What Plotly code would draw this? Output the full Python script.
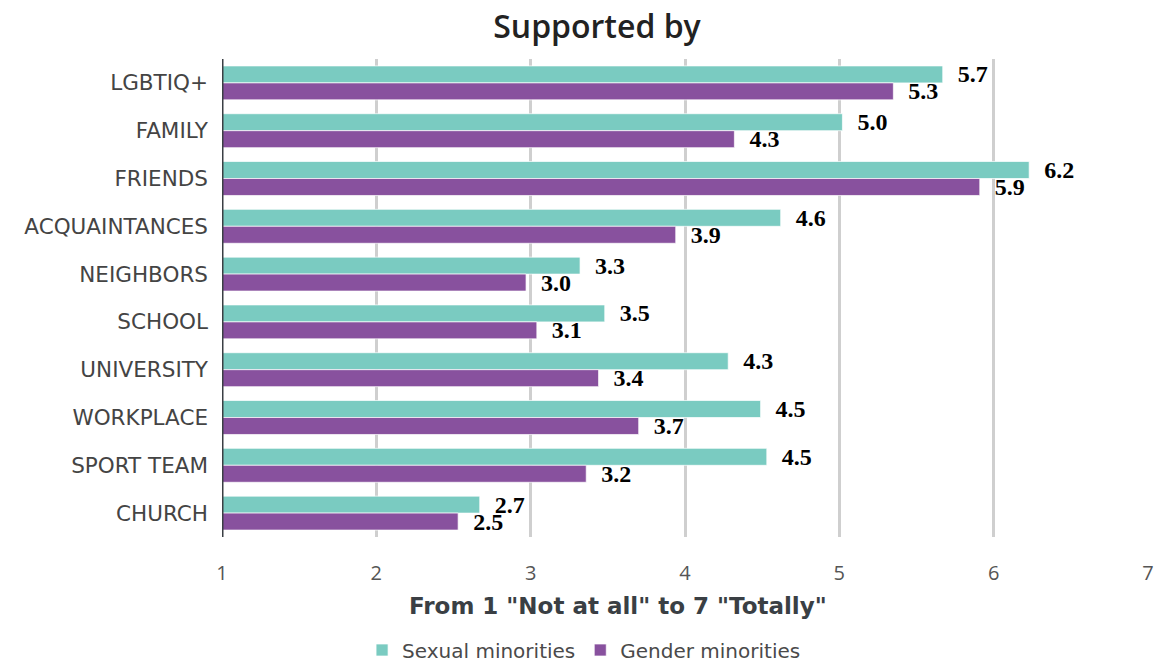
import plotly.graph_objects as go

categories = ["LGBTIQ+", "FAMILY", "FRIENDS", "ACQUAINTANCES", "NEIGHBORS",
              "SCHOOL", "UNIVERSITY", "WORKPLACE", "SPORT TEAM", "CHURCH"]
sexual_values = [5.67, 5.02, 6.23, 4.62, 3.32, 3.48, 4.28, 4.49, 4.53, 2.67]
gender_values = [5.35, 4.32, 5.91, 3.94, 2.97, 3.04, 3.44, 3.70, 3.36, 2.53]
sexual_labels = ["5.7", "5.0", "6.2", "4.6", "3.3", "3.5", "4.3", "4.5", "4.5", "2.7"]
gender_labels = ["5.3", "4.3", "5.9", "3.9", "3.0", "3.1", "3.4", "3.7", "3.2", "2.5"]
x_ticks = [1, 2, 3, 4, 5, 6, 7]

TEAL = "#7ACBC1"
PURPLE = "#88519E"
label_font = dict(family="Liberation Serif", size=24, color="#000000", weight="bold")

fig = go.Figure()
fig.add_trace(go.Bar(
    y=categories, x=[v - 1 for v in sexual_values], base=1, orientation="h",
    name="Sexual minorities", marker=dict(color=TEAL, line=dict(color="rgba(255,255,255,0.7)", width=1)),
    text=sexual_labels, texttemplate="\u00a0\u00a0%{text}", textposition="outside",
    textfont=label_font, cliponaxis=False, constraintext="none", hoverinfo="skip",
))
fig.add_trace(go.Bar(
    y=categories, x=[v - 1 for v in gender_values], base=1, orientation="h",
    name="Gender minorities", marker=dict(color=PURPLE, line=dict(color="rgba(255,255,255,0.7)", width=1)),
    text=gender_labels, texttemplate="\u00a0\u00a0%{text}", textposition="outside",
    textfont=label_font, cliponaxis=False, constraintext="none", hoverinfo="skip",
))

fig.update_layout(
    width=1157, height=662,
    margin=dict(l=222, r=9, t=59, b=125, autoexpand=False),
    paper_bgcolor="white", plot_bgcolor="white",
    barmode="group", bargap=0.29, bargroupgap=0,
    showlegend=True,
    legend=dict(orientation="h", x=0.391, xanchor="center", y=-(650 - 537) / 478, yanchor="middle",
                font=dict(family="DejaVu Sans", size=20, color="#4a4a4a"),
                tracegroupgap=0, traceorder="normal"),
    title=dict(text="Supported by", x=597 / 1157, xanchor="center", y=1 - 27 / 662, yanchor="middle",
               font=dict(family="Open Sans", size=32, color="#222222", weight=600)),
    xaxis=dict(range=[1, 7], tickvals=x_ticks, ticktext=[str(t) for t in x_ticks],
               showgrid=True, gridcolor="#cfcfcf", gridwidth=3, zeroline=False,
               showline=False, ticks="", ticklabelstandoff=22,
               tickfont=dict(family="Open Sans", size=20, color="#555555")),
    yaxis=dict(autorange="reversed", showgrid=False, showline=False, ticks="",
               ticklabelstandoff=13,
               tickfont=dict(family="DejaVu Sans", size=21.5, color="#444444")),
    shapes=[dict(type="line", xref="x", yref="paper", x0=1, x1=1, y0=0, y1=1,
                 line=dict(color="#3a3f44", width=3))],
    annotations=[dict(text="<b>From 1 \"Not at all\" to 7 \"Totally\"</b>", xref="paper", yref="paper",
                      x=(618 - 222) / 926, y=-(606 - 537) / 478, xanchor="center", yanchor="middle",
                      showarrow=False, font=dict(family="DejaVu Sans", size=23, color="#3a3f44"))],
)

fig.write_html("out.html")
